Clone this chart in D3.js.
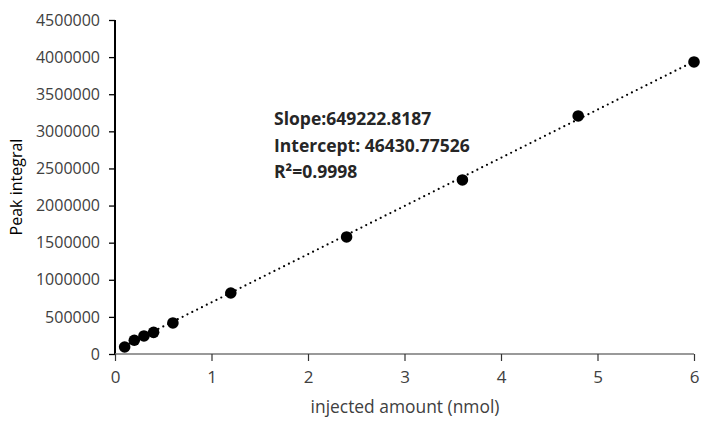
<!DOCTYPE html>
<html>
<head>
<meta charset="utf-8">
<script src="https://cdn.jsdelivr.net/npm/d3@7"></script>
<style>
  body { margin: 0; background: #fff; }
  text { font-family: "Open Sans", "Liberation Sans", sans-serif; }
</style>
</head>
<body>
<div id="wrapper"></div>
<script>
// measured points
const amounts = [0.1, 0.2, 0.3, 0.4, 0.6, 1.2, 2.4, 3.6, 4.8, 6]
const integrals = [94000, 185000, 243000, 292000, 418000, 822000, 1577000, 2345000, 3207000, 3935000]
const slope = 649222.8187
const intercept = 46430.77526
const xTicks = [0, 1, 2, 3, 4, 5, 6]
const yTicks = [0, 500000, 1000000, 1500000, 2000000, 2500000, 3000000, 3500000, 4000000, 4500000]
const fitLabels = ["Slope:649222.8187", "Intercept: 46430.77526", "R²=0.9998"]

function draw() {
    var dimension = {
        width: 702,
        height: 421,
        margin: { top: 20, left: 115, right: 8, bottom: 67 }
    }
    dimension.boundedWidth = dimension.width - dimension.margin.left - dimension.margin.right
    dimension.boundedHeight = dimension.height - dimension.margin.top - dimension.margin.bottom

    const svg = d3.select("#wrapper")
        .append("svg")
        .attr("width", dimension.width)
        .attr("height", dimension.height)

    const bounds = svg.append("g")
        .attr("transform", `translate(${dimension.margin.left},${dimension.margin.top})`)

    const x = d3.scaleLinear().domain([0, 6]).range([0, dimension.boundedWidth])
    const y = d3.scaleLinear().domain([0, 4500000]).range([dimension.boundedHeight, 0])

    // y axis
    const yAxis = bounds.append("g")
        .call(d3.axisLeft(y).tickValues(yTicks).tickSize(6).tickPadding(9).tickFormat(d3.format("d")))
    yAxis.select(".domain").attr("stroke", "#000").attr("stroke-width", 2).attr("d", `M0,${dimension.boundedHeight}V0`)
    yAxis.selectAll(".tick line").attr("stroke", "#000").attr("stroke-width", 1.3)
    yAxis.selectAll("text").attr("fill", "#404040").style("font-size", "16px")

    // x axis
    const xAxis = bounds.append("g")
        .attr("transform", `translate(0,${dimension.boundedHeight})`)
        .call(d3.axisBottom(x).tickValues(xTicks).tickSize(7).tickPadding(10).tickFormat(d3.format("d")))
    xAxis.select(".domain").attr("stroke", "#777").attr("stroke-width", 1.3).attr("d", `M0,0H${x(6)}`)
    xAxis.selectAll(".tick line").attr("stroke", "#333").attr("stroke-width", 1.2)
    xAxis.selectAll("text").attr("fill", "#404040").style("font-size", "17px")

    // trend line
    const ext = d3.extent(amounts)
    bounds.append("line")
        .attr("x1", x(ext[0])).attr("y1", y(slope * ext[0] + intercept))
        .attr("x2", x(ext[1])).attr("y2", y(slope * ext[1] + intercept))
        .attr("stroke", "#000")
        .attr("stroke-width", 2.2)
        .attr("stroke-linecap", "round")
        .attr("stroke-dasharray", "0,5.4")

    // points
    bounds.selectAll("circle")
        .data(amounts)
        .enter()
        .append("circle")
        .attr("cx", d => x(d))
        .attr("cy", (d, i) => y(integrals[i]))
        .attr("r", 5.8)
        .attr("fill", "#000")

    // fit annotation
    svg.append("g")
        .selectAll("text")
        .data(fitLabels)
        .enter()
        .append("text")
        .attr("x", 274)
        .attr("y", (d, i) => 125 + i * 26.5)
        .attr("fill", "#262626")
        .style("font-size", "17.5px")
        .style("font-weight", "bold")
        .text(d => d)

    // axis titles
    svg.append("text")
        .attr("x", 405)
        .attr("y", 413)
        .attr("text-anchor", "middle")
        .attr("fill", "#404040")
        .style("font-size", "17.4px")
        .text("injected amount (nmol)")

    svg.append("text")
        .attr("transform", "translate(22,187) rotate(-90)")
        .attr("text-anchor", "middle")
        .attr("fill", "#000")
        .style("font-size", "16px")
        .text("Peak integral")
}

draw()
</script>
</body>
</html>
